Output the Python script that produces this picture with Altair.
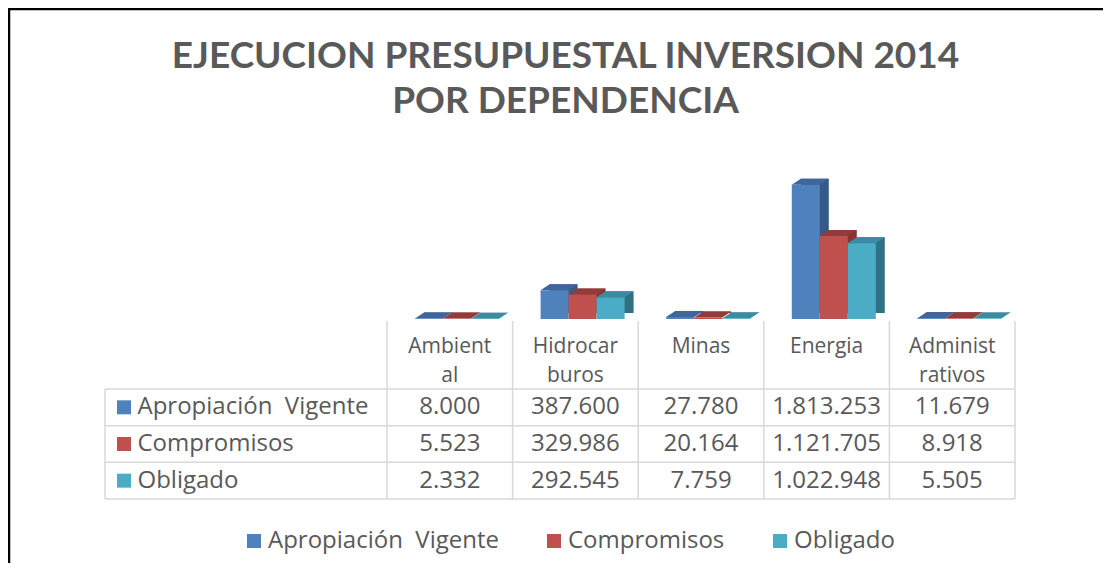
import altair as alt
import pandas as pd

# ---------------- data ----------------
categories = ["Ambiental", "Hidrocarburos", "Minas", "Energia", "Administrativos"]
header_lines = [["Ambient", "al"], ["Hidrocar", "buros"], ["Minas"], ["Energia"], ["Administ", "rativos"]]
series = ["Apropiación\u00a0 Vigente", "Compromisos", "Obligado"]
apropiacion_vigente = [8000, 387600, 27780, 1813253, 11679]
compromisos = [5523, 329986, 20164, 1121705, 8918]
obligado = [2332, 292545, 7759, 1022948, 5505]
title_lines = ["EJECUCION PRESUPUESTAL INVERSION 2014", "POR DEPENDENCIA"]

front_colors = ["#4F81BD", "#C0504D", "#4BACC6"]
top_colors = ["#3F659A", "#923B39", "#3A8CA2"]
side_colors = ["#365A88", "#873532", "#2F7183"]

TEXT = "#595959"
FONT = "Open Sans"
TITLE_FONT = "Lato"
GRID = "#D9D9D9"
FS = 24


def fmt(v):
    return f"{v:,}".replace(",", ".")


values_by_series = [apropiacion_vigente, compromisos, obligado]
records = []
for j, s in enumerate(series):
    for i, c in enumerate(categories):
        v = values_by_series[j][i]
        records.append({
            "cat": c, "series": s, "value": v, "label": fmt(v),
            "front": front_colors[j], "top": top_colors[j], "side": side_colors[j],
        })
df = pd.DataFrame(records)
series_df = pd.DataFrame({"series": series, "color": front_colors})
cat_df = pd.DataFrame({"cat": categories, "head": header_lines})
one = pd.DataFrame({"k": [0]})

# ---------------- encodings ----------------
x_scale = alt.Scale(domain=categories, paddingInner=0, paddingOuter=0)
x_enc = alt.X("cat:N", sort=categories, scale=x_scale, axis=None)
xoff_front = alt.XOffset("series:N", sort=series,
                         scale=alt.Scale(domain=series, paddingInner=0, paddingOuter=0.743, align=0.673))
xoff_side = alt.XOffset("series:N", sort=series,
                        scale=alt.Scale(domain=series, paddingInner=0, paddingOuter=0.743, align=0.889))
y_bar = alt.Y("value:Q", scale=alt.Scale(domain=[0, 2000000], range=[148, 0]), axis=None)

tab_axis = alt.Axis(orient="left", title=None, domain=False, ticks=False, grid=False,
                    labelAlign="left", labelPadding=250, labelFont=FONT, labelFontSize=FS,
                    labelColor=TEXT, labelLimit=400, labelBaseline="middle")
tab_scale = alt.Scale(domain=series, range=[218, 328], paddingInner=0, paddingOuter=0)
y_tab = alt.Y("series:N", sort=series, scale=tab_scale, axis=tab_axis)

TOP_PATH = "M-1,0L-0.357,-0.429L1.643,-0.429L1,0Z"

# ---------------- bars (pseudo 3D) ----------------
side = alt.Chart(df).mark_bar(yOffset=-6, y2Offset=-3).encode(
    x=x_enc, xOffset=xoff_side, y=y_bar, color=alt.Color("side:N", scale=None))
top = alt.Chart(df).mark_point(shape=TOP_PATH, size=784, filled=True, opacity=1,
                               strokeWidth=0).encode(
    x=x_enc, xOffset=xoff_front, y=y_bar, color=alt.Color("top:N", scale=None))
front = alt.Chart(df).mark_bar().encode(
    x=x_enc, xOffset=xoff_front, y=y_bar,
    color=alt.Color("series:N", sort=series,
                    scale=alt.Scale(domain=series, range=front_colors),
                    legend=alt.Legend(orient="none", legendX=-145, legendY=358,
                                      direction="horizontal", title=None,
                                      symbolType="square", symbolSize=196,
                                      symbolStrokeWidth=0, symbolOpacity=1,
                                      labelFont=FONT, labelFontSize=FS, labelColor=TEXT,
                                      labelLimit=400, labelOffset=2, columnPadding=43,
                                      padding=0)))
bars = alt.layer(side, alt.layer(top, front)).resolve_scale(xOffset="independent")

# ---------------- data table ----------------
vals = alt.Chart(df).mark_text(font=FONT, fontSize=FS, color=TEXT, baseline="middle").encode(
    x=x_enc, y=y_tab, text="label:N")
squares = alt.Chart(series_df).mark_square(size=196, opacity=1).encode(
    x=alt.value(-263), y=y_tab, color=alt.Color("color:N", scale=None))
hlines = alt.Chart(series_df).mark_rule(color=GRID, strokeWidth=1.5).encode(
    y=alt.Y("series:N", sort=series, scale=tab_scale, axis=tab_axis, bandPosition=0),
    x=alt.value(-282), x2=alt.value(628))
hbottom = alt.Chart(one).mark_rule(color=GRID, strokeWidth=1.5).encode(
    y=alt.value(328), x=alt.value(-282), x2=alt.value(628))
vlines = alt.Chart(cat_df).mark_rule(color=GRID, strokeWidth=1.5).encode(
    x=alt.X("cat:N", sort=categories, scale=x_scale, axis=None, bandPosition=0),
    y=alt.value(150), y2=alt.value(328))
vright = alt.Chart(one).mark_rule(color=GRID, strokeWidth=1.5).encode(
    x=alt.value(628), y=alt.value(150), y2=alt.value(328))
vleft = alt.Chart(one).mark_rule(color=GRID, strokeWidth=1.5).encode(
    x=alt.value(-282), y=alt.value(218), y2=alt.value(328))
heads = alt.Chart(cat_df).mark_text(font=FONT, fontSize=21, color=TEXT, baseline="alphabetic",
                                    lineHeight=29).encode(
    x=x_enc, y=alt.value(182), text="head")

# ---------------- title & frame ----------------
title_df = pd.DataFrame({"line": title_lines})
t1 = alt.Chart(title_df.iloc[[0]]).mark_text(font=TITLE_FONT, fontSize=37, fontWeight="bold",
                                             color=TEXT, baseline="alphabetic", align="center").encode(
    x=alt.value(178.5), y=alt.value(-103), text="line:N")
t2 = alt.Chart(title_df.iloc[[1]]).mark_text(font=TITLE_FONT, fontSize=37, fontWeight="bold",
                                             color=TEXT, baseline="alphabetic", align="center").encode(
    x=alt.value(178.5), y=alt.value(-58), text="line:N")
btop = alt.Chart(one).mark_rule(color="black", strokeWidth=2.5).encode(
    y=alt.value(-162), x=alt.value(-379), x2=alt.value(716))
bleft = alt.Chart(one).mark_rule(color="black", strokeWidth=2.5).encode(
    x=alt.value(-378), y=alt.value(-163), y2=alt.value(392))

table = alt.layer(hlines, hbottom, vlines, vright, vleft, squares, vals, heads,
                  t1, t2, btop, bleft)

chart = alt.layer(bars, table).resolve_scale(y="independent").properties(
    width=628, height=328,
    autosize=alt.AutoSizeParams(type="none"),
    padding={"left": 379, "top": 163, "right": 88, "bottom": 64},
    background="white",
).configure_view(stroke=None)

chart.save("out.html", embed_options={"renderer": "svg", "actions": False})
